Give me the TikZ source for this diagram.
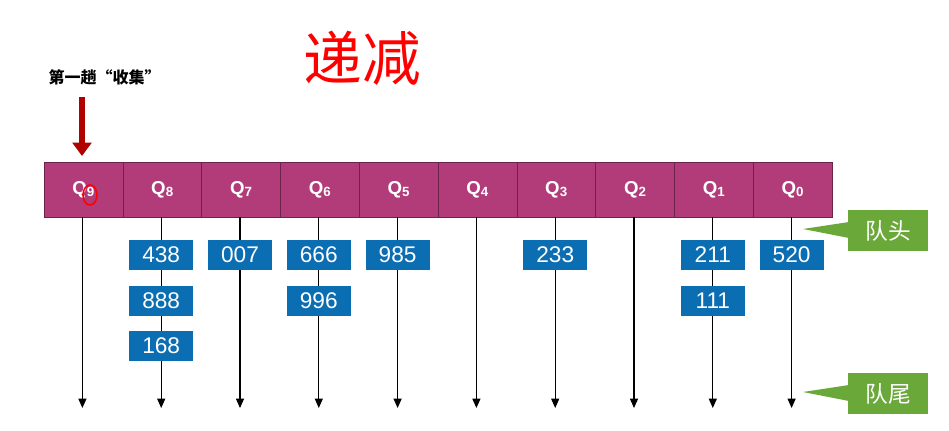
\documentclass[tikz,border=0pt]{standalone}
\usepackage{fontspec}
\setmainfont{Liberation Sans}
\newfontfamily\cjk{Noto Sans CJK SC}
\usetikzlibrary{arrows.meta,calc}
\definecolor{qcol}{HTML}{B23B7A}
\definecolor{bcol}{HTML}{0B6DB2}
\definecolor{gcol}{HTML}{6BA83A}
\definecolor{rcol}{HTML}{B00000}
\tikzset{
 cell/.style={draw=qcol!60!black,fill=qcol,minimum width=78.8*0.75pt,minimum height=55*0.75pt,inner sep=0pt,text=white,font=\bfseries\fontsize{14}{14}\selectfont},
 num/.style={fill=bcol,minimum width=64*0.75pt,minimum height=30*0.75pt,inner sep=0pt,text=white,font=\fontsize{17}{17}\selectfont},
 glab/.style={fill=gcol,minimum width=80*0.75pt,minimum height=41*0.75pt,inner sep=0pt,text=white,font=\cjk\fontsize{17}{17}\selectfont},
 qline/.style={thick,-{Triangle[length=7pt,width=6pt]}},
}
\begin{document}
\begin{tikzpicture}[x=0.75pt,y=-0.75pt]
\useasboundingbox (0,0) rectangle (949,431);
\foreach \i in {0,...,9}{
  \pgfmathtruncatemacro\q{9-\i}
  \node[cell] (c\q) at ({44+78.8*(\i+0.5)},189.5) {Q\raisebox{-0.25ex}{\fontsize{10}{10}\selectfont\q}};
  \coordinate (e\q) at ({44+78.8*(\i+0.5)-1},408);
  \draw[qline] ({44+78.8*(\i+0.5)-1},217) -- (e\q);
}
\draw[red,line width=1.2pt] (90,195) ellipse (7 and 10);
% numbers
\foreach \q/\r/\t in {8/0/438,8/1/888,8/2/168,7/0/007,6/0/666,6/1/996,5/0/985,3/0/233,1/0/211,1/1/111,0/0/520}{
  \node[num] (n\q\r) at ($(c\q.center)+(-1,{65.5+45.5*\r})$) {\t};
}
% green labels
\node[glab] (head) at (888,230.5) {队头};
\node[glab] (tail) at (888,393.5) {队尾};
\coordinate (hp) at (803,229);
\coordinate (tp) at (803,392);
\fill[gcol] (hp) -- (849,222) -- (849,238) -- cycle;
\fill[gcol] (tp) -- (849,385) -- (849,401) -- cycle;
% top texts
\node[font=\cjk\bfseries\fontsize{12}{12}\selectfont,anchor=west] (t1) at (44,77) {第一趟“收集”};
\coordinate (ra) at (82,97);
\coordinate (rb) at (82,156);
\draw[rcol,line width=4pt,-{Triangle[length=10pt,width=14pt]}] (ra) -- (rb);
\node[text=red,font=\cjk\fontsize{44}{44}\selectfont] (t2) at (362,58) {递减};
\end{tikzpicture}
\end{document}
